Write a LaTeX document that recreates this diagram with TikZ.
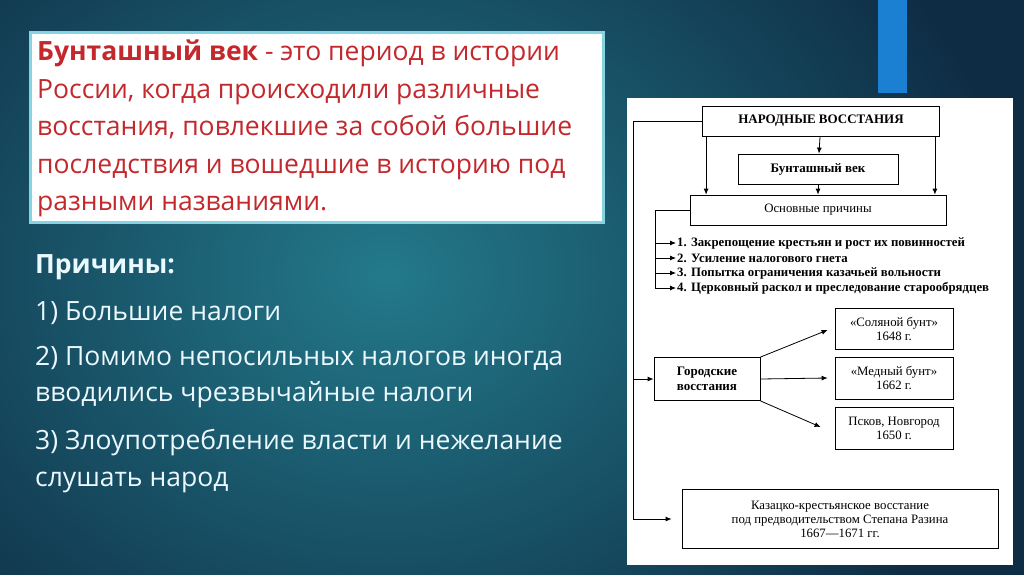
\documentclass[tikz,border=0pt]{standalone}
\usepackage{fontspec}
\setmainfont{Open Sans}
\newfontfamily\schemefont{Liberation Serif}
\usetikzlibrary{positioning}
\definecolor{bgin}{HTML}{23798A}
\definecolor{bgout}{HTML}{0E2C44}
\definecolor{barblue}{HTML}{1B80D2}
\definecolor{redtxt}{HTML}{C3282D}
\definecolor{frame}{HTML}{86D3E2}
\tikzset{
  sbox/.style={draw,thick,fill=white,align=center,inner sep=2pt,font=\schemefont\fontsize{12.8}{14}\selectfont},
  arr/.style={-{Latex[length=6pt,width=5pt]},thick},
  line/.style={thick},
  lefttxt/.style={anchor=north west,align=left,inner sep=0pt,text=white!92!cyan,font=\fontsize{26.5}{36.5}\selectfont}
}
\usetikzlibrary{arrows.meta}
\begin{document}
\begin{tikzpicture}[x=1pt,y=-1pt]
\useasboundingbox (0,0) rectangle (1024,574);
\shade[inner color=bgin,outer color=bgout] (-250,-250) rectangle (1024,800);
\fill[barblue] (878,0) rectangle (907,93);
%
\draw[frame,line width=3pt,fill=white] (30,32) rectangle (603,222);
\node[anchor=north west,align=left,inner sep=0pt,text=redtxt,font=\fontsize{26.5}{37.5}\selectfont] (def) at (37,40)
 {\textbf{Бунташный век} - это период в истории\\России, когда происходили различные\\восстания, повлекшие за собой большие\\последствия и вошедшие в историю под\\разными названиями.};
%
\node[lefttxt,font=\fontsize{26.5}{36}\selectfont\bfseries] (causes) at (35,254) {Причины:};
\node[lefttxt] (c1) at (35,301) {1) Большие налоги};
\node[lefttxt] (c2) at (35,346) {2) Помимо непосильных налогов иногда\\вводились чрезвычайные налоги};
\node[lefttxt] (c3) at (35,429) {3) Злоупотребление власти и нежелание\\слушать народ};
%
\fill[white] (627,98) rectangle (1013,565);
\node[sbox,minimum width=237,minimum height=30,font=\schemefont\fontsize{13}{14.5}\selectfont\bfseries] (nv) at (821,121) {НАРОДНЫЕ ВОССТАНИЯ};
\node[sbox,minimum width=160,minimum height=30,font=\schemefont\fontsize{13}{14.5}\selectfont\bfseries] (bv) at (818,169) {Бунташный век};
\node[sbox,minimum width=256,minimum height=30] (op) at (818,210) {Основные причины};
\node[sbox,minimum width=106,minimum height=43,font=\schemefont\fontsize{13}{14.5}\selectfont\bfseries] (gv) at (707,379) {Городские\\восстания};
\node[sbox,minimum width=118,minimum height=41] (sb) at (894,329) {«Соляной бунт»\\1648 г.};
\node[sbox,minimum width=118,minimum height=42] (mb) at (894,378) {«Медный бунт»\\1662 г.};
\node[sbox,minimum width=118,minimum height=42] (pn) at (894,428) {Псков, Новгород\\1650 г.};
\node[sbox,minimum width=316,minimum height=59] (kz) at (840,519) {Казацко-крестьянское восстание\\под предводительством Степана Разина\\1667—1671 гг.};
%
\foreach \y/\t [count=\i] in {243/Закрепощение крестьян и рост их повинностей,258/Усиление налогового гнета,273/Попытка ограничения казачьей вольности,288/Церковный раскол и преследование старообрядцев}
  \node[anchor=west,inner sep=1pt,font=\schemefont\fontsize{12.8}{14}\selectfont\bfseries] (r\i) at (676,\y) {\i. \t};
%
\draw[arr] (nv) -- (bv);
\draw[arr] (bv) -- (op);
\draw[arr] (nv.south west)+(4,0) coordinate (a1) -- (a1 |- op.north);
\draw[arr] (nv.south east)+(-5,0) coordinate (a2) -- (a2 |- op.north);
\coordinate (ol) at (633,121);
\draw[line] (nv.west) -- (ol) -- (ol |- kz);
\draw[arr] (ol |- gv) -- (gv);
\draw[arr] (ol |- kz) -- ([xshift=-10pt]kz.west);
\coordinate (pl) at (655,210);
\draw[line] (op.west) -- (pl) -- (pl |- r4);
\foreach \i in {1,...,4} \draw[arr] (pl |- r\i) -- (r\i.west);
\draw[arr] (gv.north east) -- ([xshift=-7pt,yshift=-1pt]sb.west);
\draw[arr] (gv.east) -- ([xshift=-7pt]mb.west);
\draw[arr] (gv.south east) -- ([xshift=-14pt,yshift=1pt]pn.west);
\end{tikzpicture}
\end{document}
